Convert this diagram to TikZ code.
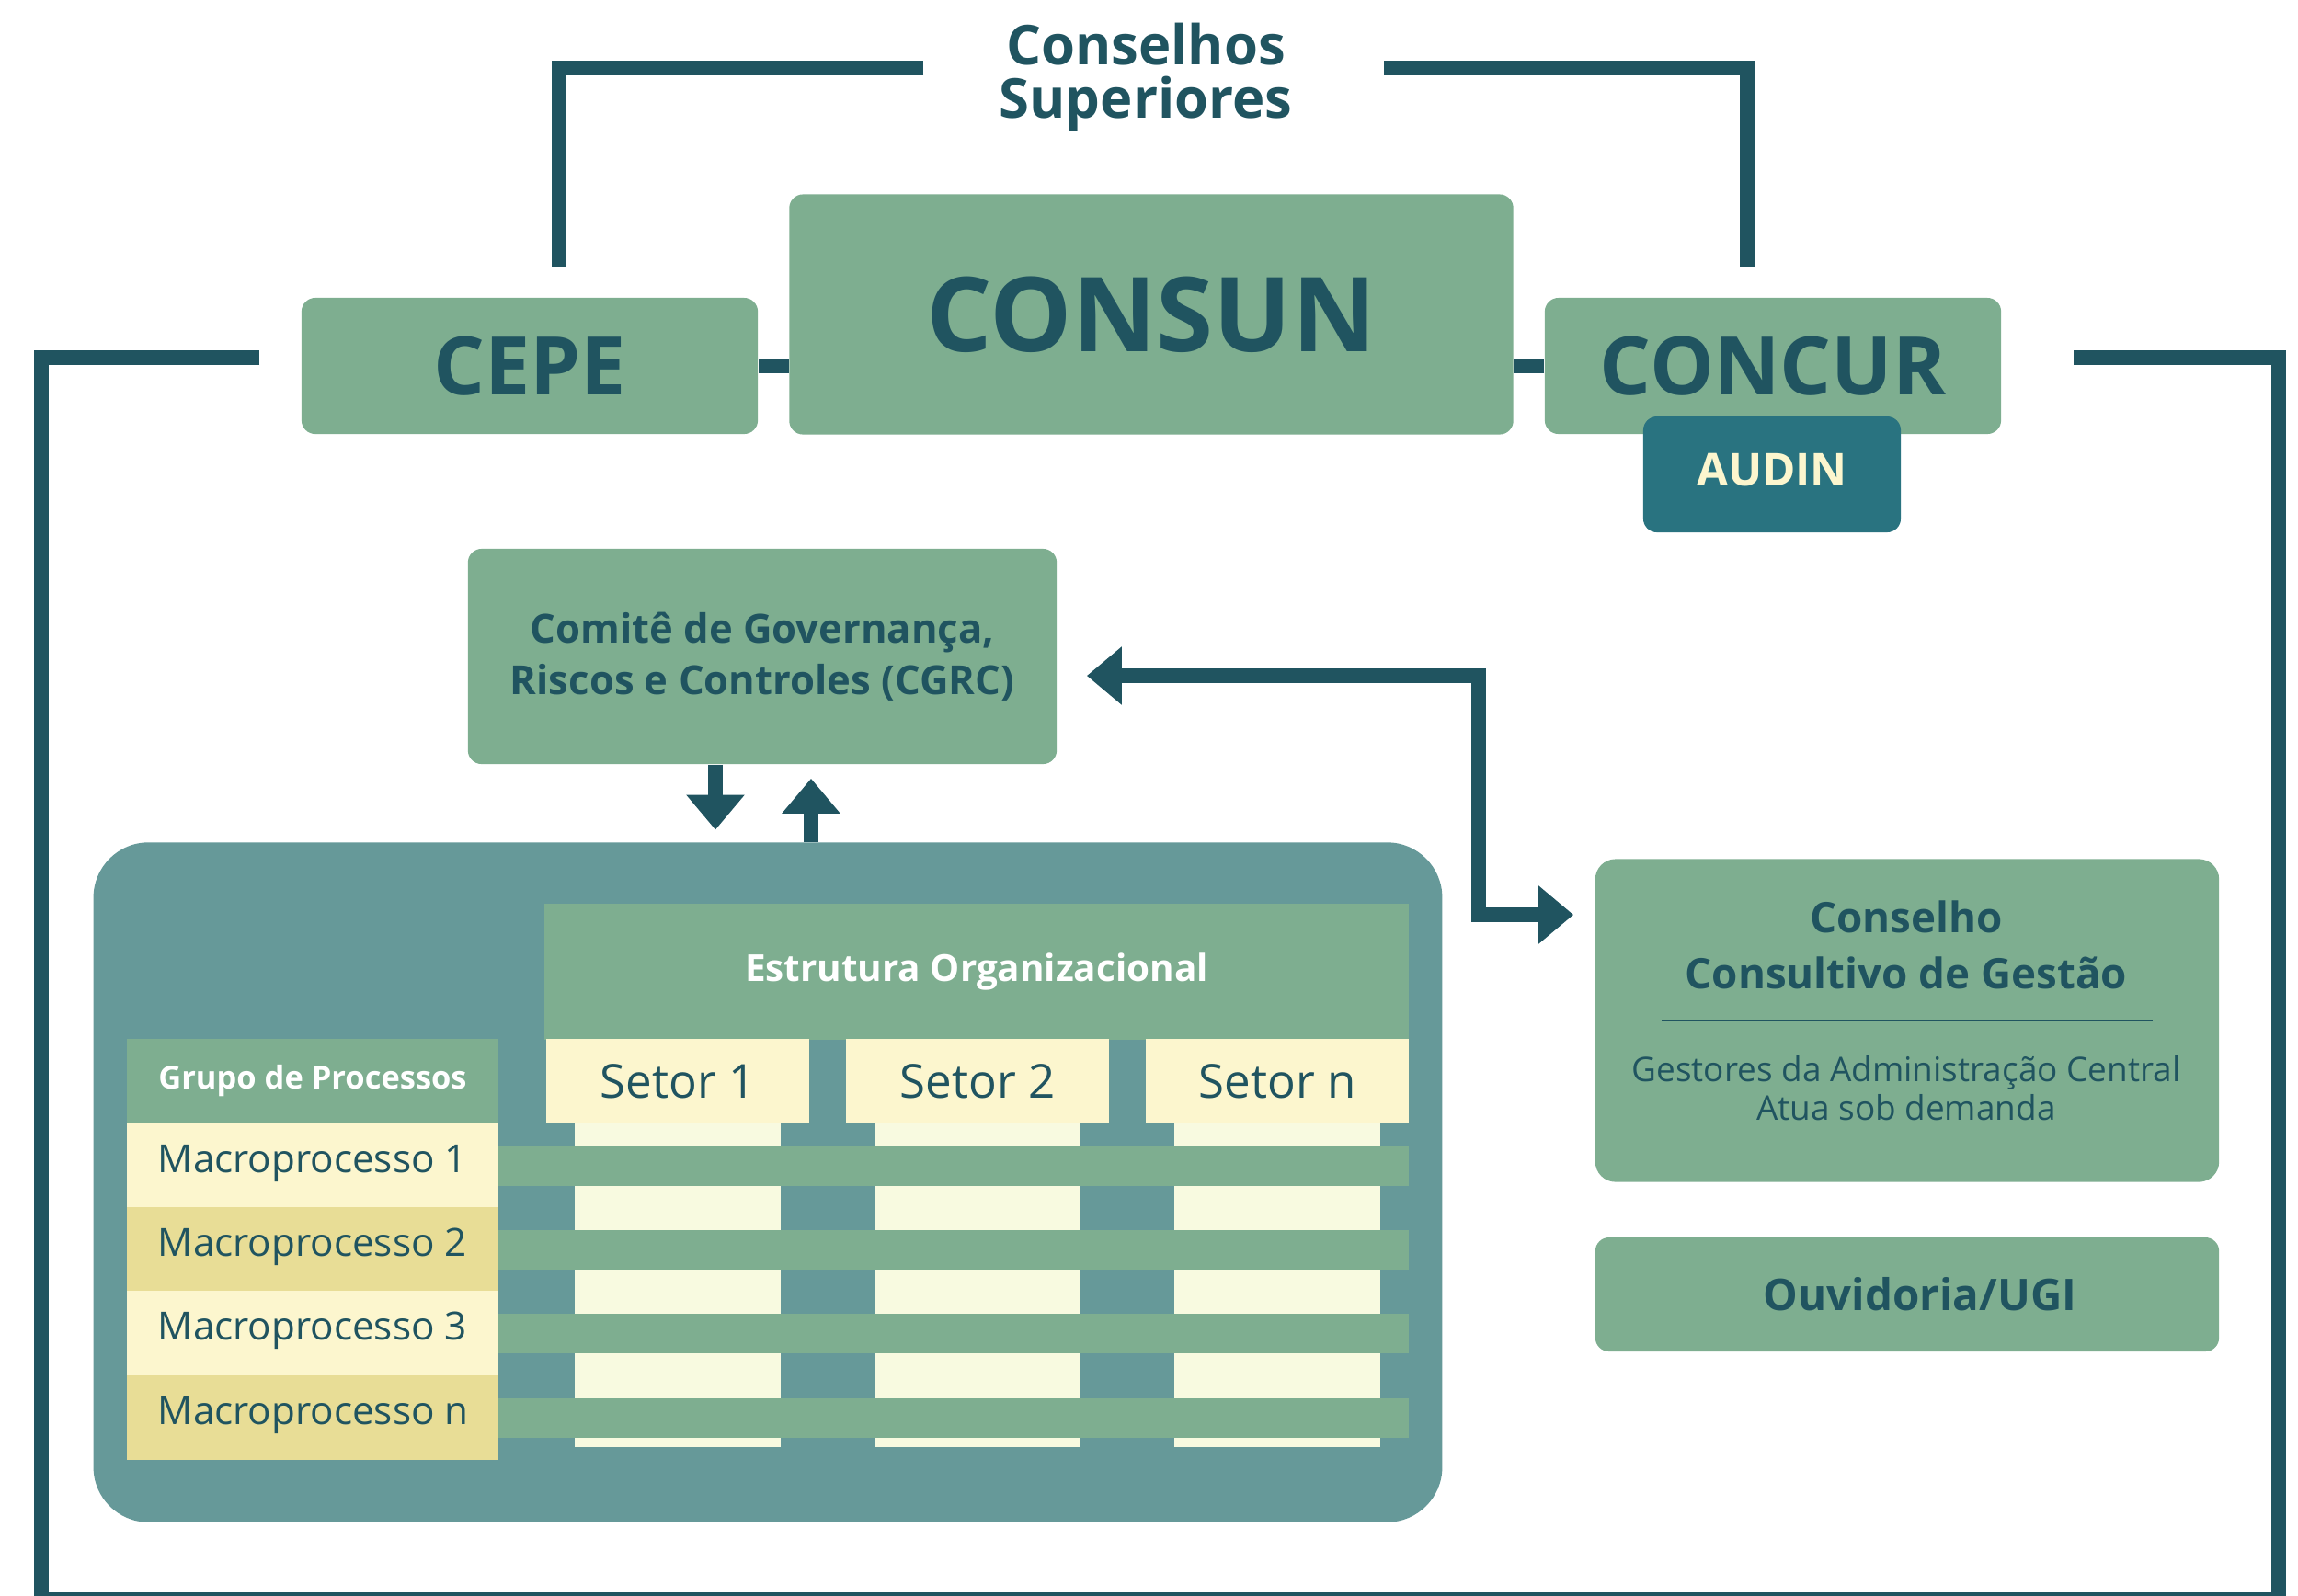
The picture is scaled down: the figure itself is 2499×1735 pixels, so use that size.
\documentclass[tikz,border=0pt]{standalone}
\usepackage{fontspec}
\setmainfont{Open Sans}
\usetikzlibrary{arrows.meta}
\definecolor{ink}{RGB}{32,84,96}
\definecolor{sage}{RGB}{126,174,144}
\definecolor{slate}{RGB}{102,153,153}
\definecolor{deepteal}{RGB}{41,115,128}
\definecolor{cream}{RGB}{252,246,206}
\definecolor{pale}{RGB}{248,250,224}
\definecolor{ochre}{RGB}{232,221,150}

\begin{document}
\begin{tikzpicture}[x=0.01cm, y=-0.01cm,
    wire/.style={draw=ink, line width=0.165cm},
    flow/.style={wire, -{Triangle[length=0.38cm, width=0.61cm]}},
    council/.style={fill=sage, rounded corners=0.15cm, text=ink, inner sep=0pt},
    cell/.style={inner sep=0pt, text=ink}]
    \useasboundingbox (0,0) rectangle (2499,1735);

    % Conselhos Superiores
    \node[cell, align=center, font=\bfseries\fontsize{17}{16.5}\selectfont] (title) at (1246,84) {Conselhos\\Superiores};
    \coordinate (bl) at (1004,74);
    \coordinate (blfoot) at (608,290);
    \coordinate (br) at (1505,74);
    \coordinate (brfoot) at (1900,290);
    \draw[wire] (bl) -- (bl -| blfoot) -- (blfoot);
    \draw[wire] (br) -- (br -| brfoot) -- (brfoot);

    % outer frame
    \draw[wire] (282,389) -- (45,389) -- (45,1740) -- (2478,1740) -- (2478,389) -- (2255,389);

    % boards
    \node[council, minimum width=4.96cm, minimum height=1.48cm, font=\bfseries\fontsize{25}{30}\selectfont] (cepe) at (576,398) {CEPE};
    \node[council, minimum width=7.87cm, minimum height=2.61cm, font=\bfseries\fontsize{32}{38}\selectfont] (consun) at (1252,342) {CONSUN};
    \node[council, minimum width=4.96cm, minimum height=1.48cm, font=\bfseries\fontsize{25}{30}\selectfont] (concur) at (1928,398) {CONCUR};
    \draw[wire] (cepe.east) -- (cepe.east -| consun.west);
    \draw[wire] (concur.west) -- (concur.west -| consun.east);
    \node[council, fill=deepteal, text=cream, minimum width=2.8cm, minimum height=1.26cm, text depth=0.1cm, font=\bfseries\fontsize{14}{17}\selectfont] (audin) at (1927,516) {AUDIN};

    % CGRC
    \node[council, minimum width=6.4cm, minimum height=2.34cm, align=center, font=\bfseries\fontsize{12.4}{16}\selectfont] (cgrc) at (829,714) {Comitê de Governança,\\Riscos e Controles (CGRC)};

    % Processos x Estrutura
    \node[fill=slate, rounded corners=0.6cm, minimum width=14.66cm, minimum height=7.39cm, inner sep=0pt] (proc) at (835,1286) {};
    \node[fill=sage, text=white, minimum width=9.39cm, minimum height=1.47cm, font=\bfseries\fontsize{11.5}{14}\selectfont] (estr) at (1062,1057) {Estrutura Organizacional};
    \foreach \x/\s in {737/1, 1063/2, 1389/n} {
        \node[fill=pale, minimum width=2.24cm, minimum height=3.51cm] (col\s) at (\x,1398) {};
        \node[fill=cream, text=ink, minimum width=2.85cm, minimum height=0.92cm, font=\fontsize{14.5}{17}\selectfont] (setor\s) at (\x,1176) {Setor \s};
    }
    \node[fill=sage, text=white, minimum width=4.04cm, minimum height=0.92cm, font=\bfseries\fontsize{9.8}{12}\selectfont] (grupo) at (340,1176) {Grupo de Processos};
    \foreach \y/\m/\c in {1268/1/cream, 1359/2/ochre, 1450/3/cream, 1542/n/ochre} {
        \node[fill=sage, minimum width=9.9cm, minimum height=0.43cm] (bar\m) at (1037,\y) {};
        \node[fill=\c, minimum width=4.04cm, minimum height=0.915cm] (macro\m) at (340,\y) {};
        \node[cell, anchor=base west, font=\fontsize{12}{14}\selectfont] (mtext\m) at ([xshift=0.34cm, yshift=-0.075cm]macro\m.west) {Macroprocesso \m};
    }

    % Conselho Consultivo de Gestao
    \node[council, rounded corners=0.22cm, minimum width=6.78cm, minimum height=3.51cm] (ccg) at (2074,1110) {};
    \node[cell, align=center, font=\bfseries\fontsize{13}{17.5}\selectfont] (ccgname) at (2073,1028) {Conselho\\Consultivo de Gestão};
    \draw[ink, line width=0.02cm] (1807,1110) -- (2341,1110);
    \node[cell, align=center, font=\fontsize{10.5}{12}\selectfont] (ccgnote) at (2073,1184) {Gestores da Administração Central\\Atua sob demanda};
    \node[council, minimum width=6.78cm, minimum height=1.24cm, font=\bfseries\fontsize{13.5}{16}\selectfont] (ouv) at (2074,1408) {\hspace{0.28cm}Ouvidoria/UGI};

    % arrows
    \coordinate (elbowA) at (1608,735);
    \coordinate (elbowB) at (1608,995);
    \draw[wire, {Triangle[length=0.38cm, width=0.61cm]}-{Triangle[length=0.38cm, width=0.61cm]}, shorten <=0.32cm, shorten >=0.23cm]
        (cgrc.east |- elbowA) -- (elbowA) -- (elbowB) -- (ccg.west |- elbowB);
    \coordinate (downx) at (778,0);
    \coordinate (upx) at (882,0);
    \draw[flow, shorten >=0.13cm] (cgrc.south -| downx) -- (proc.north -| downx);
    \draw[flow, shorten >=0.15cm] (proc.north -| upx) -- (cgrc.south -| upx);
\end{tikzpicture}
\end{document}
